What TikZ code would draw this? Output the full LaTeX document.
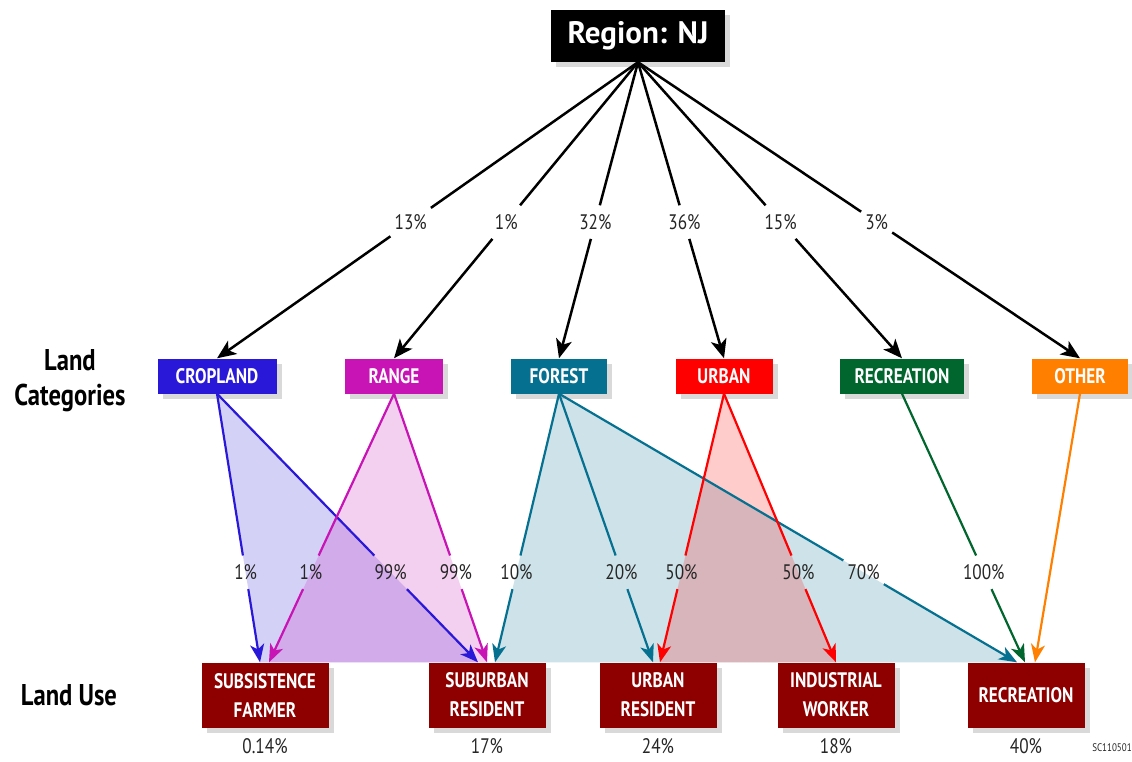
\documentclass[tikz,border=0pt]{standalone}
\usepackage{fontspec}
\setmainfont{PT Sans}
\newfontfamily\estrecha{PT Sans}[FakeStretch=0.82]
\usetikzlibrary{arrows.meta, positioning, shadows, calc, backgrounds}
\definecolor{colorCropland}{HTML}{2A18D8}
\definecolor{colorRange}{HTML}{C814B4}
\definecolor{colorForest}{HTML}{05708F}
\definecolor{colorUrban}{HTML}{FF0000}
\definecolor{colorRecreation}{HTML}{00662E}
\definecolor{colorOther}{HTML}{FF8000}
\definecolor{rojoUso}{HTML}{8E0000}
\definecolor{grisTexto}{HTML}{262626}

\begin{document}
\begin{tikzpicture}[
        x=1pt, y=-1pt,
        sombra/.style={drop shadow={opacity=0.3, shadow xshift=5pt, shadow yshift=-5pt}},
        region/.style={fill=black, text=white, sombra, minimum width=174pt, minimum height=52pt,
            font=\bfseries\fontsize{31}{33}\selectfont},
        cat/.style={fill=#1, text=white, sombra, minimum height=35pt, inner sep=0pt,
            font=\estrecha\bfseries\fontsize{21}{24}\selectfont},
        uso/.style={fill=rojoUso, text=white, sombra, minimum width=117pt, minimum height=65pt,
            inner xsep=6pt, align=center, font=\estrecha\bfseries\fontsize{21}{29}\selectfont},
        pct/.style={text=grisTexto, inner xsep=4pt, inner ysep=9pt, font=\estrecha\fontsize{21}{22}\selectfont},
        rotulo/.style={align=center, font=\estrecha\bfseries\fontsize{30}{35}\selectfont},
        rama/.style={line width=2.5pt, black},
        ramaF/.style={rama, -{Stealth[length=19pt, width=16pt, inset=5pt]}},
        flujo/.style={line width=2.2pt, #1},
        flujoF/.style={flujo=#1, -{Stealth[length=18pt, width=14pt, inset=5pt]}},
        mancha/.style={fill=#1, fill opacity=0.2}
    ]
    \useasboundingbox (0,0) rectangle (1132,761);

    % region
    \node[region] (region) at (638,36) {Region: NJ};

    % land categories
    \node[cat=colorCropland, minimum width=119pt] (crop) at (217,376) {CROPLAND};
    \node[cat=colorRange, minimum width=98pt] (range) at (394,376) {RANGE};
    \node[cat=colorForest, minimum width=96pt] (forest) at (559,376) {FOREST};
    \node[cat=colorUrban, minimum width=97pt] (urban) at (724,376) {URBAN};
    \node[cat=colorRecreation, minimum width=124pt] (recr) at (902,376) {RECREATION};
    \node[cat=colorOther, minimum width=96pt] (other) at (1080,376) {OTHER};

    % land use
    \node[uso, minimum width=127pt] (farmer) at (265,695) {SUBSISTENCE\\FARMER};
    \node[uso] (suburb) at (487,695) {SUBURBAN\\RESIDENT};
    \node[uso] (resident) at (658,695) {URBAN\\RESIDENT};
    \node[uso] (worker) at (836,695) {INDUSTRIAL\\WORKER};
    \node[uso] (recuse) at (1026,695) {RECREATION};

    \node[pct, below=2pt of farmer] (pFarmer) {0.14\%};
    \node[pct, below=2pt of suburb] (pSuburb) {17\%};
    \node[pct, below=2pt of resident] (pResident) {24\%};
    \node[pct, below=2pt of worker] (pWorker) {18\%};
    \node[pct, below=2pt of recuse] (pRecuse) {40\%};

    \node[rotulo] (lblCat) at (70,381) {Land\\Categories};
    \node[rotulo] (lblUso) at (69,695) {Land Use};
    \node[text=grisTexto, font=\estrecha\fontsize{11}{12}\selectfont] (codigo) at (1112,748) {SC110501};

    % region -> categories
    \foreach \dest/\txt in {crop/13, range/1, forest/32, urban/36, recr/15, other/3} {
        \node[pct] (t\dest) at ($(region.south)!0.54!(\dest.north)$) {\txt\%};
        \draw[rama] (region.south) -- (t\dest);
        \draw[ramaF] (t\dest) -- (\dest.north);
    }

    % arrow ends on the land use boxes
    \coordinate (fA) at ($(farmer.north)+(-5,0)$);
    \coordinate (fB) at ($(farmer.north)+(4,0)$);
    \coordinate (sA) at ($(suburb.north)+(-9,0)$);
    \coordinate (sB) at (suburb.north);
    \coordinate (sC) at ($(suburb.north)+(8,0)$);
    \coordinate (rA) at ($(resident.north)+(-5,0)$);
    \coordinate (rB) at ($(resident.north)+(2,0)$);
    \coordinate (wA) at (worker.north);
    \coordinate (uA) at ($(recuse.north)+(-9,0)$);
    \coordinate (uB) at ($(recuse.north)+(-1,0)$);
    \coordinate (uC) at ($(recuse.north)+(9,0)$);

    \begin{scope}[on background layer]
        \fill[mancha=colorCropland] (crop.south) -- (fA) -- (sA) -- cycle;
        \fill[mancha=colorRange] (range.south) -- (fB) -- (sB) -- cycle;
        \fill[mancha=colorForest] (forest.south) -- (sC) -- (uA) -- cycle;
        \fill[mancha=colorUrban] (urban.south) -- (rB) -- (wA) -- cycle;
    \end{scope}

    % categories -> land use
    \foreach \src/\dst/\col/\txt/\nm in {crop/fA/colorCropland/1/a, crop/sA/colorCropland/99/b,
            range/fB/colorRange/1/c, range/sB/colorRange/99/d, forest/sC/colorForest/10/e,
            forest/rA/colorForest/20/f, forest/uA/colorForest/70/g, urban/rB/colorUrban/50/h,
            urban/wA/colorUrban/50/i, recr/uB/colorRecreation/100/j} {
        \node[pct] (pc\nm) at ($(\src.south)!0.665!(\dst)$) {\txt\%};
        \draw[flujo=\col] (\src.south) -- (pc\nm);
        \draw[flujoF=\col] (pc\nm) -- (\dst);
    }
    \draw[flujoF=colorOther] (other.south) -- (uC);
\end{tikzpicture}
\end{document}
